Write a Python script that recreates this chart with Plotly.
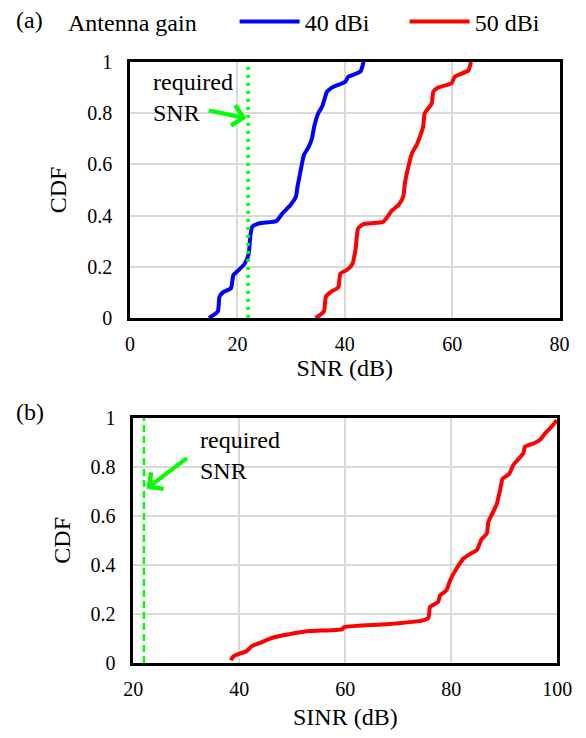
import plotly.graph_objects as go

# ---- data ----
snr_40 = [14.7, 16.35, 16.67, 17.3, 18.8, 19.26, 20.06, 21.3, 22.1, 22.4, 22.8, 24.1, 27.3, 28.4, 29.9,
          30.9, 31.2, 31.8, 32.4, 33.3, 33.9, 34.3, 35.06, 35.8, 36.7, 37.6, 40.1, 40.7, 42.9, 43.5]
cdf_40 = [0.0, 0.025, 0.083, 0.10, 0.116, 0.168, 0.184, 0.21, 0.25, 0.318, 0.357, 0.37, 0.379, 0.409, 0.441,
          0.474, 0.513, 0.578, 0.637, 0.669, 0.702, 0.747, 0.80, 0.826, 0.884, 0.90, 0.923, 0.943, 0.962, 1.0]

snr_50 = [34.6, 36.1, 36.5, 37.3, 38.8, 39.2, 40.4, 41.4, 42.0, 42.5, 43.5, 47.2, 48.8, 50.0, 50.9,
          51.2, 51.85, 52.5, 53.4, 54.0, 54.6, 54.9, 56.2, 56.5, 57.4, 59.9, 60.5, 63.0, 63.5]
cdf_50 = [0.0, 0.025, 0.083, 0.10, 0.12, 0.174, 0.1875, 0.21, 0.266, 0.35, 0.367, 0.376, 0.42, 0.441, 0.474,
          0.526, 0.591, 0.643, 0.676, 0.708, 0.747, 0.80, 0.838, 0.884, 0.90, 0.917, 0.943, 0.966, 1.0]

sinr = [38.4, 38.9, 41.4, 42.3, 43.9, 46.4, 52.7, 59.3, 59.9, 67.8, 74.7, 75.7, 76.0, 77.5, 77.9, 79.1,
        79.8, 81.0, 82.3, 83.5, 84.8, 85.7, 86.7, 87.0, 87.9, 88.6, 89.2, 89.7, 90.9, 91.7, 92.6, 93.6,
        93.9, 95.5, 96.7, 97.7, 98.9, 99.9]
cdf_sinr = [0.011, 0.027, 0.049, 0.068, 0.082, 0.104, 0.129, 0.137, 0.147, 0.158, 0.174, 0.185, 0.229, 0.249,
            0.276, 0.297, 0.338, 0.385, 0.426, 0.444, 0.46, 0.504, 0.528, 0.576, 0.616, 0.65, 0.705, 0.752,
            0.77, 0.807, 0.83, 0.855, 0.882, 0.895, 0.909, 0.936, 0.963, 0.99]

required_snr = 22
series_names = ["40 dBi", "50 dBi"]
legend_title = "Antenna gain"
x_ticks_a = [0, 20, 40, 60, 80]
x_ticks_b = [20, 40, 60, 80, 100]
y_ticks = [0, 0.2, 0.4, 0.6, 0.8, 1]
y_tick_text = ["0", "0.2", "0.4", "0.6", "0.8", "1"]

# ---- layout geometry (page has an 8px body margin) ----
OFF = 8
W, H = 586 - 2 * OFF, 738 - 2 * OFF
FONT = "Liberation Serif"
GREEN = "#00ff00"
GRID = "#d9d9d9"

def px(x):
    return (x - OFF) / W

def py(y):
    return 1 - (y - OFF) / H

fig = go.Figure()

fig.add_trace(go.Scatter(x=snr_40, y=cdf_40, mode="lines", name=series_names[0],
                         line=dict(color="#0000ff", width=4, shape="spline", smoothing=0.5),
                         xaxis="x", yaxis="y"))
fig.add_trace(go.Scatter(x=snr_50, y=cdf_50, mode="lines", name=series_names[1],
                         line=dict(color="#ff0000", width=4, shape="spline", smoothing=0.5),
                         xaxis="x", yaxis="y"))
fig.add_trace(go.Scatter(x=[required_snr, required_snr], y=[0, 1], mode="lines", showlegend=False,
                         line=dict(color=GREEN, width=3.5, dash="3px,5px"), xaxis="x", yaxis="y"))

fig.add_trace(go.Scatter(x=sinr, y=cdf_sinr, mode="lines", showlegend=False,
                         line=dict(color="#ff0000", width=4, shape="spline", smoothing=0.5),
                         xaxis="x2", yaxis="y2"))
fig.add_trace(go.Scatter(x=[required_snr, required_snr], y=[0, 1], mode="lines", showlegend=False,
                         line=dict(color=GREEN, width=2.5, dash="7px,4px"), xaxis="x2", yaxis="y2"))

axis_common = dict(showline=True, linecolor="black", linewidth=2.5, mirror=True,
                   showgrid=True, gridcolor=GRID, gridwidth=1.5, zeroline=False, ticks="",
                   automargin=False,
                   tickfont=dict(family=FONT, size=20, color="black"))

fig.update_layout(
    width=W, height=H,
    margin=dict(l=0, r=0, t=0, b=0, autoexpand=False),
    paper_bgcolor="white", plot_bgcolor="white",
    font=dict(family=FONT, size=20, color="black"),
    xaxis=dict(domain=[px(130), px(559.5)], anchor="y", range=[0, 80], tickvals=x_ticks_a,
               ticklabelstandoff=6,
               title=dict(text="SNR (dB)", font=dict(family=FONT, size=24), standoff=3), **axis_common),
    yaxis=dict(domain=[py(318), py(62)], anchor="x", range=[0, 1], tickvals=y_ticks, ticktext=y_tick_text,
               ticklabelstandoff=11,
               title=dict(text="CDF", font=dict(family=FONT, size=24), standoff=14), **axis_common),
    xaxis2=dict(domain=[px(133.3), px(557.3)], anchor="y2", range=[20, 100], tickvals=x_ticks_b,
                ticklabelstandoff=6,
                title=dict(text="SINR (dB)", font=dict(family=FONT, size=24), standoff=19), **axis_common),
    yaxis2=dict(domain=[py(663), py(417.7)], anchor="x2", range=[0, 1], tickvals=y_ticks, ticktext=y_tick_text,
                ticklabelstandoff=11,
                title=dict(text="CDF", font=dict(family=FONT, size=24), standoff=14), **axis_common),
    legend=dict(orientation="h", x=px(66), xanchor="left", y=py(22), yanchor="middle",
                title=dict(text=legend_title + "\u00a0" * 5, side="left", font=dict(family=FONT, size=24)),
                font=dict(family=FONT, size=24), entrywidth=95, bgcolor="rgba(0,0,0,0)",
                itemwidth=60),
    showlegend=True,
)

annotations = [
    dict(text="(a)", x=px(14), y=py(20), xref="paper", yref="paper", xanchor="left", yanchor="middle",
         showarrow=False, font=dict(family=FONT, size=24)),
    dict(text="(b)", x=px(14), y=py(412), xref="paper", yref="paper", xanchor="left", yanchor="middle",
         showarrow=False, font=dict(family=FONT, size=24)),
    dict(text="required<br>SNR", x=3.9, y=0.862, xref="x", yref="y", xanchor="left", yanchor="middle",
         align="left", showarrow=False, font=dict(family=FONT, size=24)),
    dict(text="", x=21.7, y=0.78, xref="x", yref="y", ax=14.4, ay=0.812, axref="x", ayref="y",
         showarrow=True, arrowhead=4, arrowsize=1, arrowwidth=4, arrowcolor=GREEN),
    dict(text="required<br>SNR", x=32.2, y=0.845, xref="x2", yref="y2", xanchor="left", yanchor="middle",
         align="left", showarrow=False, font=dict(family=FONT, size=24)),
    dict(text="", x=22.5, y=0.71, xref="x2", yref="y2", ax=30.4, ay=0.84, axref="x2", ayref="y2",
         showarrow=True, arrowhead=4, arrowsize=1, arrowwidth=4, arrowcolor=GREEN),
]
fig.update_layout(annotations=annotations)

fig.write_html("out.html")
